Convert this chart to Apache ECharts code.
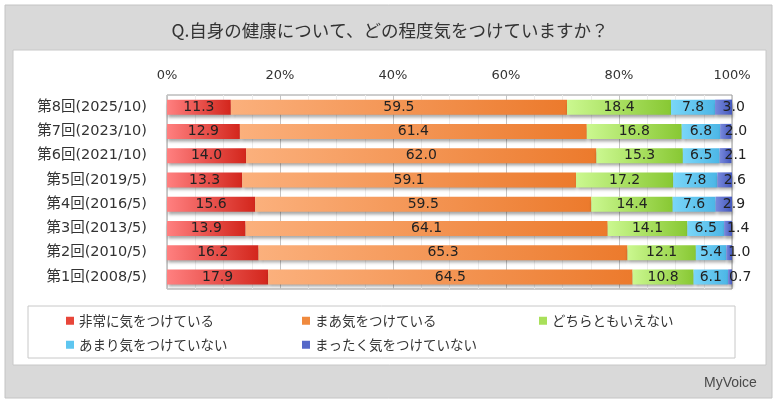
<!DOCTYPE html>
<html><head><meta charset="utf-8">
<script src="https://cdn.jsdelivr.net/npm/echarts@6/dist/echarts.min.js"></script>
<style>html,body{margin:0;padding:0;background:#fff}#c{width:780px;height:405px}</style>
</head><body><div id="c"></div>
<script>
const categories = ['第8回(2025/10)','第7回(2023/10)','第6回(2021/10)','第5回(2019/5)','第4回(2016/5)','第3回(2013/5)','第2回(2010/5)','第1回(2008/5)'];
const seriesNames = ['非常に気をつけている','まあ気をつけている','どちらともいえない','あまり気をつけていない','まったく気をつけていない'];
const veryCareful = [11.3,12.9,14.0,13.3,15.6,13.9,16.2,17.9];
const somewhatCareful = [59.5,61.4,62.0,59.1,59.5,64.1,65.3,64.5];
const neither = [18.4,16.8,15.3,17.2,14.4,14.1,12.1,10.8];
const notVery = [7.8,6.8,6.5,7.8,7.6,6.5,5.4,6.1];
const notAtAll = [3.0,2.0,2.1,2.6,2.9,1.4,1.0,0.7];
const tickLabels = ['0%','20%','40%','60%','80%','100%'];

const values = [veryCareful, somewhatCareful, neither, notVery, notAtAll];
const grads = [['#ff8080','#d3261c'],['#fbb07c','#ec7a2c'],['#cbf890','#88c833'],['#7ad6f8','#4cb6e6'],['#7889dc','#4458bd']];
const solid = ['#e8463a','#f08a3e','#a9e05a','#5ec6f0','#5568c8'];
const font = '"Noto Sans CJK JP", "Noto Sans", sans-serif';
const numFont = '"DejaVu Sans", "Noto Sans CJK JP", sans-serif';

const chart = echarts.init(document.getElementById('c'));
const series = values.map((v,i)=>({
  name: seriesNames[i], type:'bar', stack:'total', data:v, barWidth:15,
  itemStyle:{
    color:new echarts.graphic.LinearGradient(0,0,1,0,[{offset:0,color:grads[i][0]},{offset:1,color:grads[i][1]}]),
    shadowColor:'rgba(0,0,0,0.35)', shadowBlur:3, shadowOffsetX:1, shadowOffsetY:3
  },
  label:{
    show:true, color:'#222', fontSize:14, fontFamily:numFont,
    formatter:p=>p.value.toFixed(1),
    position: i===4 ? ['50%','50%'] : 'inside',
    align: i===4 ? 'left' : 'center', verticalAlign:'middle',
    offset: i===4 ? [-1,0] : [0,0]
  }
}));
const legendPos = [[66,314],[302,314],[539,314],[66,338],[302,338]];
const legends = seriesNames.map((n,i)=>({
  data:[{name:n, itemStyle:{color:solid[i]}}], left:legendPos[i][0], top:legendPos[i][1],
  icon:'rect', itemWidth:8, itemHeight:8, itemGap:4, padding:0,
  textStyle:{fontSize:13.5, color:'#333', fontFamily:font}, selectedMode:false
}));

chart.setOption({
  animation:false,
  textStyle:{fontFamily:font},
  title:{text:'Q.自身の健康について、どの程度気をつけていますか？', left:'center', top:17,
    textStyle:{fontSize:17.5, fontWeight:'normal', color:'#333', fontFamily:font}},
  graphic:[
    {type:'rect', z:-100, shape:{x:5,y:5,width:767,height:393}, style:{fill:'#d9d9d9', stroke:'#c4c4c4', lineWidth:1}},
    {type:'rect', z:-99, shape:{x:13,y:50,width:753,height:315}, style:{fill:'#ffffff', stroke:'#c8c8c8', lineWidth:1}},
    {type:'rect', z:-98, shape:{x:28,y:306,width:707,height:52}, style:{fill:'#ffffff', stroke:'#c8c8c8', lineWidth:1}},
    {type:'text', z:10, left:704, top:376, style:{text:'MyVoice', fill:'#4a4a4a', font:'14px "Liberation Sans", sans-serif'}}
  ],
  legend: legends,
  grid:{left:167, top:95, width:565, height:194, show:true, borderColor:'#9a9a9a', borderWidth:1, backgroundColor:'transparent'},
  xAxis:{type:'value', position:'top', min:0, max:100, interval:20,
    axisLine:{show:false}, axisTick:{show:false},
    axisLabel:{margin:13, fontSize:13, color:'#333', fontFamily:numFont, formatter:v=>tickLabels[Math.round(v/20)]},
    splitLine:{show:true, lineStyle:{color:'#c4c4c4'}},
    minorTick:{show:false, splitNumber:4},
    minorSplitLine:{show:true, lineStyle:{color:'#ececec'}}
  },
  yAxis:{type:'category', data:categories, inverse:true,
    axisLine:{show:false}, axisTick:{show:false},
    axisLabel:{margin:20, fontSize:14.5, color:'#333', fontFamily:numFont}
  },
  series: series
});
</script></body></html>
